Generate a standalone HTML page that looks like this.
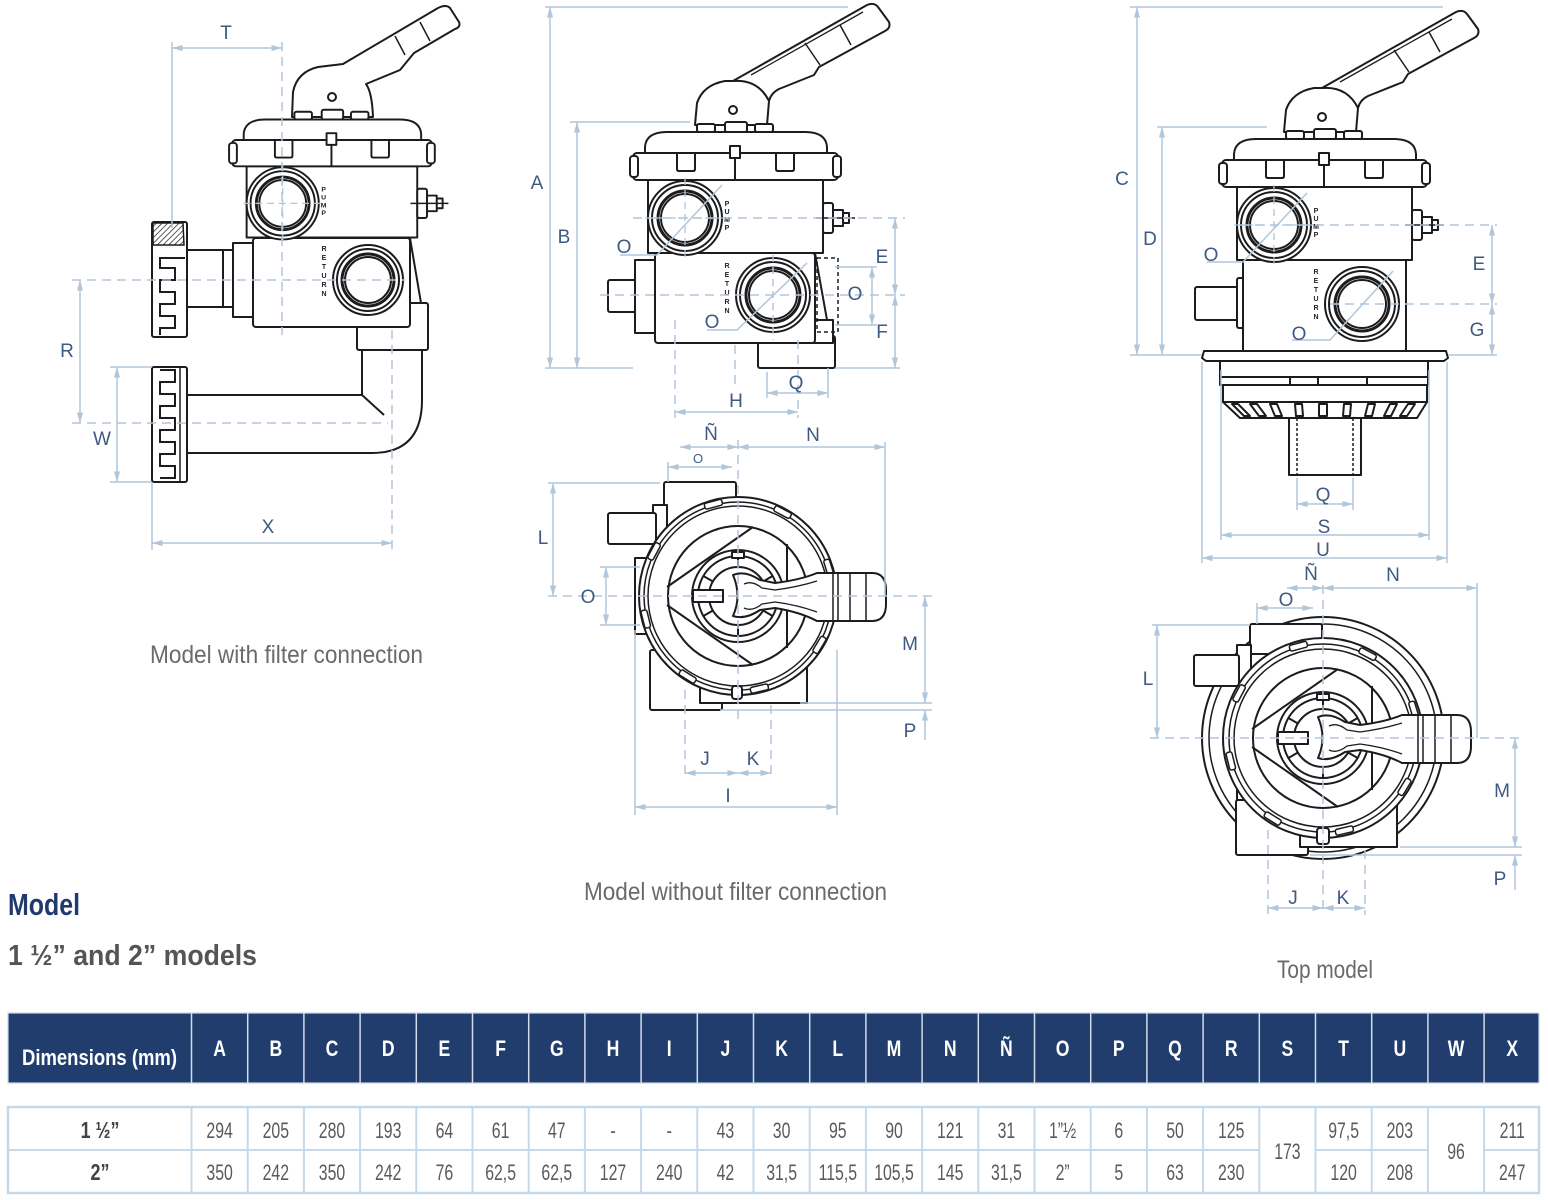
<!DOCTYPE html>
<html><head><meta charset="utf-8">
<style>
html,body{margin:0;padding:0;background:#fff;}
svg{display:block;}
</style></head><body>
<svg width="1548" height="1200" viewBox="0 0 1548 1200" xmlns="http://www.w3.org/2000/svg" font-family="Liberation Sans, Arial, sans-serif">
<defs>
<marker id="ar" viewBox="0 0 12 8" refX="12" refY="4" markerWidth="11" markerHeight="7" markerUnits="userSpaceOnUse" orient="auto-start-reverse"><path d="M0,0.5 L12,4 L0,7.5 Z" fill="#b0c6db"/></marker>
<pattern id="hatch" width="4" height="4" patternUnits="userSpaceOnUse" patternTransform="rotate(45)"><rect width="4" height="4" fill="#fff"/><line x1="0" y1="0" x2="0" y2="4" stroke="#333" stroke-width="1.6"/></pattern>

<g id="top" fill="#fff" stroke="#1c1c1c" stroke-width="2" stroke-linejoin="round">
 <rect x="64" y="-29" width="18" height="8" rx="2"/>
 <rect x="92" y="-31" width="22" height="10" rx="2"/>
 <rect x="122" y="-29" width="18" height="8" rx="2"/>
 <path d="M12,1 L12,-6 Q13,-21 34,-21 L172,-21 Q193,-21 194,-6 L194,1 Z"/>
 <rect x="15" y="27" width="175" height="73"/>
 <rect x="0" y="0" width="205" height="27" rx="4"/>
 <rect x="-3" y="3" width="8" height="21" rx="3"/>
 <rect x="200" y="3" width="8" height="21" rx="3"/>
 <path d="M44,0 L44,16 Q44,18 46,18 L60,18 Q62,18 62,16 L62,0" fill="none"/>
 <path d="M143,0 L143,16 Q143,18 145,18 L159,18 Q161,18 161,16 L161,0" fill="none"/>
 <path d="M97,-7 L107,-7 L107,5 L97,5 Z"/>
 <line x1="102" y1="5" x2="102" y2="27"/>
 <circle cx="52" cy="65" r="37"/>
 <circle cx="52" cy="65" r="33"/>
 <circle cx="52" cy="65" r="27" stroke-width="3"/>
 <circle cx="52" cy="65" r="24"/>
 <rect x="190" y="50" width="10" height="30" rx="2"/>
 <rect x="200" y="57" width="10" height="16"/>
 <path d="M210,60 L216,60 L216,70 L210,70" fill="none"/>
 <line x1="183" y1="65" x2="222" y2="65" stroke-width="1.5"/>
 <line x1="52" y1="25" x2="52" y2="105" stroke="#b0c6db" stroke-width="1.3" stroke-dasharray="7 5"/>
 <line x1="12" y1="65" x2="92" y2="65" stroke="#b0c6db" stroke-width="1.3" stroke-dasharray="7 5"/>
 <g stroke="none" fill="#222" font-size="7" font-weight="bold" text-anchor="middle">
  <text x="94" y="53">P</text><text x="94" y="61">U</text><text x="94" y="69">M</text><text x="94" y="77">P</text>
 </g>
</g>

<g id="hdl" fill="#fff" stroke="#1c1c1c" stroke-width="2" stroke-linejoin="round">
 <path d="M62,-28 L64,-50 Q70,-68 92,-72 L100,-72 L234,-148 Q241,-151 245,-146 L256,-131 Q258,-125 252,-122 L186,-86 L181,-78 L146,-64 Q138,-60 136,-52 L134,-28 Z"/>
 <path d="M100,-72 Q125,-74 136,-52" fill="none"/>
 <path d="M118,-78 L230,-141" fill="none" stroke-width="1.3"/>
 <path d="M172,-110 L187,-88 M207,-128 L218,-108" fill="none" stroke-width="1.5"/>
 <circle cx="100" cy="-43" r="4"/>
</g>

<g id="rot" fill="#fff" stroke="#1c1c1c" stroke-width="2" stroke-linejoin="round">
 <circle r="70"/>
 <path d="M-71,-9 L15,-69 M-71,9 L15,69 M49,-52 L49,52" fill="none"/>
 <circle r="46"/>
 <circle r="40"/>
 <circle r="29"/>
 <path d="M25.1,14.5 L34.6,20 M0,29 L0,40 M-25.1,14.5 L-34.6,20 M-25.1,-14.5 L-34.6,-20 M0,-29 L0,-40 M25.1,-14.5 L34.6,-20" fill="none"/>
 <rect x="-6" y="-44" width="12" height="6"/>
 <rect x="-45" y="-6" width="30" height="12"/>
 <path d="M-5,-21 Q7,-26 22,-16 L37,-13 Q62,-16 79,-23 L134,-23 Q148,-23 148,-6 L148,8 Q148,25 134,25 L79,25 Q62,16 37,12 L22,14 Q7,24 -5,20 Q4,0 -5,-21 Z"/>
 <path d="M6,-12 Q14,-16 24,-8 L37,-6 Q60,-9 79,-15 M6,12 Q14,16 24,8 L37,6 Q60,9 79,16" fill="none" stroke-width="1.3"/>
 <path d="M95,-23 L95,25 M100,-23 L100,25 M112,-23 L112,25 M128,-23 L128,25" fill="none" stroke-width="1.5"/>
</g>

<g id="slots" fill="#fff" stroke="#1c1c1c" stroke-width="1.5">
 <g transform="rotate(-105)"><rect x="92" y="-9" width="6" height="18" rx="2"/></g>
 <g transform="rotate(-62)"><rect x="92" y="-9" width="6" height="18" rx="2"/></g>
 <g transform="rotate(-17)"><rect x="92" y="-9" width="6" height="18" rx="2"/></g>
 <g transform="rotate(31)"><rect x="92" y="-9" width="6" height="18" rx="2"/></g>
 <g transform="rotate(77)"><rect x="92" y="-9" width="6" height="18" rx="2"/></g>
 <g transform="rotate(122)"><rect x="92" y="-9" width="6" height="18" rx="2"/></g>
 <g transform="rotate(166)"><rect x="92" y="-9" width="6" height="18" rx="2"/></g>
 <g transform="rotate(-152)"><rect x="92" y="-9" width="6" height="18" rx="2"/></g>
</g>
</defs>

<rect width="1548" height="1200" fill="#fff"/>

<!-- ================= VIEW 1 ================= -->
<g fill="#fff" stroke="#1c1c1c" stroke-width="2" stroke-linejoin="round">
 <path d="M362,345 L422,345 L422,400 Q422,453 372,453 L187,453 L187,395 L362,395 Z"/>
 <line x1="362" y1="395" x2="384" y2="415"/>
 <rect x="357" y="303" width="71" height="47" rx="2"/>
 <line x1="410" y1="238" x2="421" y2="303"/>
 <rect x="187" y="250" width="46" height="57"/>
 <line x1="223" y1="250" x2="223" y2="307"/>
 <path d="M233,243 L253,243 Q264,280 253,317 L233,317 Z"/>
 <rect x="253" y="238" width="157" height="89" rx="3"/>
 <path d="M292,117 L293,92 Q297,72 318,67 L343,64 L438,8 Q446,4 450,8 L459,22 Q461,27 455,29 L414,53 L400,70 L366,84 Q372,92 373,117 Z"/>
 <path d="M395,36 L405,55 M420,22 L430,41" fill="none" stroke-width="1.5"/>
 <circle cx="332" cy="97" r="4"/>
</g>
<use href="#top" transform="translate(232,140) scale(0.975)"/>
<g fill="#fff" stroke="#1c1c1c" stroke-width="2">
 <circle cx="368" cy="280" r="35"/>
 <circle cx="368" cy="280" r="31"/>
 <circle cx="368" cy="280" r="26" stroke-width="3"/>
 <circle cx="368" cy="280" r="23"/>
 <rect x="152" y="222" width="35" height="115" rx="2"/>
 <path d="M153,223 L183,223 L184,245 L153,245 Z" fill="url(#hatch)" stroke-width="1.5"/>
 <path d="M185,258 L160,258 L160,268 L175,268 L175,280 L160,280 L160,292 L175,292 L175,304 L160,304 L160,316 L175,316 L175,328 L160,328 L160,335" fill="none"/>
 <rect x="152" y="367" width="35" height="115" rx="2"/>
 <path d="M180,367 L180,482" fill="none" stroke-width="1.5"/>
 <path d="M160,370 L175,370 L175,382 L160,382 L160,394 L175,394 L175,406 L160,406 L160,418 L175,418 L175,430 L160,430 L160,442 L175,442 L175,454 L160,454 L160,466 L175,466 L175,478 L160,478" fill="none"/>
</g>
<g stroke="none" fill="#222" font-size="7" font-weight="bold" text-anchor="middle">
 <text x="324" y="251">R</text><text x="324" y="260">E</text><text x="324" y="269">T</text><text x="324" y="278">U</text><text x="324" y="287">R</text><text x="324" y="296">N</text>
</g>
<g stroke="#b0c6db" stroke-width="1.5" fill="none">
 <line x1="172" y1="48" x2="282" y2="48" marker-start="url(#ar)" marker-end="url(#ar)"/>
 <line x1="172" y1="42" x2="172" y2="228"/>
 <line x1="282" y1="42" x2="282" y2="335" stroke-dasharray="9 6"/>
 <line x1="72" y1="280" x2="405" y2="280" stroke-dasharray="9 6"/>
 <line x1="72" y1="423" x2="388" y2="423" stroke-dasharray="9 6"/>
 <line x1="80" y1="280" x2="80" y2="423" marker-start="url(#ar)" marker-end="url(#ar)"/>
 <line x1="110" y1="367" x2="152" y2="367"/>
 <line x1="110" y1="482" x2="152" y2="482"/>
 <line x1="117" y1="367" x2="117" y2="482" marker-start="url(#ar)" marker-end="url(#ar)"/>
 <line x1="152" y1="482" x2="152" y2="550"/>
 <line x1="392" y1="330" x2="392" y2="550" stroke-dasharray="9 6"/>
 <line x1="152" y1="543" x2="392" y2="543" marker-start="url(#ar)" marker-end="url(#ar)"/>
</g>

<!-- ================= VIEW 2 ================= -->
<g fill="#fff" stroke="#1c1c1c" stroke-width="2" stroke-linejoin="round">
 <rect x="758" y="336" width="77" height="32" rx="2"/>
 <rect x="810" y="320" width="23" height="23"/>
 <line x1="815" y1="253" x2="827" y2="320"/>
 <rect x="608" y="280" width="30" height="32" rx="2"/>
 <path d="M635,260 L655,260 Q670,296 655,333 L635,333 Z"/>
 <rect x="655" y="253" width="160" height="90" rx="3"/>
 <rect x="817" y="258" width="21" height="74" fill="none" stroke-dasharray="4 3" stroke-width="1.5"/>
</g>
<use href="#hdl" transform="translate(633,153)"/>
<use href="#top" transform="translate(633,153)"/>
<g fill="#fff" stroke="#1c1c1c" stroke-width="2">
 <circle cx="773" cy="295" r="37"/>
 <circle cx="773" cy="295" r="33"/>
 <circle cx="773" cy="295" r="27" stroke-width="3"/>
 <circle cx="773" cy="295" r="24"/>
</g>
<g stroke="none" fill="#222" font-size="7" font-weight="bold" text-anchor="middle">
 <text x="727" y="268">R</text><text x="727" y="277">E</text><text x="727" y="286">T</text><text x="727" y="295">U</text><text x="727" y="304">R</text><text x="727" y="313">N</text>
</g>
<g stroke="#b0c6db" stroke-width="1.5" fill="none">
 <line x1="545" y1="7" x2="848" y2="7"/>
 <line x1="545" y1="368" x2="633" y2="368"/>
 <line x1="550" y1="7" x2="550" y2="368" marker-start="url(#ar)" marker-end="url(#ar)"/>
 <line x1="570" y1="122" x2="690" y2="122"/>
 <line x1="577" y1="122" x2="577" y2="368" marker-start="url(#ar)" marker-end="url(#ar)"/>
 <line x1="633" y1="218" x2="905" y2="218" stroke-dasharray="9 6"/>
 <line x1="600" y1="295" x2="905" y2="295" stroke-dasharray="9 6"/>
 <line x1="835" y1="368" x2="900" y2="368"/>
 <line x1="895" y1="218" x2="895" y2="295" marker-start="url(#ar)" marker-end="url(#ar)"/>
 <line x1="895" y1="295" x2="895" y2="368" marker-start="url(#ar)" marker-end="url(#ar)"/>
 <line x1="835" y1="267" x2="877" y2="267"/>
 <line x1="835" y1="325" x2="877" y2="325"/>
 <line x1="872" y1="267" x2="872" y2="325" marker-start="url(#ar)" marker-end="url(#ar)"/>
 <polyline points="620,255 657,255 722,185"/>
 <polyline points="707,330 737,330 807,263"/>
 <line x1="773" y1="255" x2="773" y2="340" stroke-dasharray="7 5"/>
 <line x1="767" y1="372" x2="767" y2="398"/>
 <line x1="828" y1="368" x2="828" y2="398"/>
 <line x1="767" y1="393" x2="828" y2="393" marker-start="url(#ar)" marker-end="url(#ar)"/>
 <line x1="675" y1="320" x2="675" y2="418" stroke-dasharray="9 6"/>
 <line x1="798" y1="340" x2="798" y2="418" stroke-dasharray="9 6"/>
 <line x1="735" y1="345" x2="735" y2="385" stroke-dasharray="9 6"/>
 <line x1="675" y1="412" x2="798" y2="412" marker-start="url(#ar)" marker-end="url(#ar)"/>
</g>

<!-- ================= VIEW 3 (top, middle) ================= -->
<g fill="#fff" stroke="#1c1c1c" stroke-width="2" stroke-linejoin="round">
 <rect x="664" y="482" width="72" height="45" rx="2"/>
 <rect x="653" y="505" width="14" height="45"/>
 <rect x="608" y="513" width="48" height="31" rx="2"/>
 <rect x="635" y="558" width="15" height="76"/>
 <rect x="650" y="650" width="72" height="60" rx="2"/>
 <rect x="700" y="640" width="107" height="63"/>
 <circle cx="738" cy="596" r="99"/>
 <circle cx="738" cy="596" r="94" fill="none" stroke-width="1.5"/>
 <circle cx="738" cy="596" r="90" fill="none" stroke-width="1.5"/>
 <rect x="732" y="686" width="10" height="13" rx="3"/>
</g>
<use href="#slots" transform="translate(738,596)"/>
<use href="#rot" transform="translate(738,596)"/>
<g stroke="#b0c6db" stroke-width="1.5" fill="none">
 <line x1="680" y1="447" x2="738" y2="447" marker-start="url(#ar)" marker-end="url(#ar)"/>
 <line x1="738" y1="447" x2="885" y2="447" marker-start="url(#ar)" marker-end="url(#ar)"/>
 <line x1="885" y1="442" x2="885" y2="596"/>
 <line x1="738" y1="440" x2="738" y2="720" stroke-dasharray="9 6"/>
 <line x1="668" y1="467" x2="732" y2="467" marker-start="url(#ar)" marker-end="url(#ar)"/>
 <line x1="668" y1="462" x2="668" y2="482"/>
 <line x1="548" y1="483" x2="660" y2="483"/>
 <line x1="553" y1="483" x2="553" y2="596" marker-start="url(#ar)" marker-end="url(#ar)"/>
 <line x1="600" y1="567" x2="640" y2="567"/>
 <line x1="600" y1="625" x2="640" y2="625"/>
 <line x1="606" y1="567" x2="606" y2="625" marker-start="url(#ar)" marker-end="url(#ar)"/>
 <line x1="548" y1="596" x2="932" y2="596" stroke-dasharray="9 6"/>
 <line x1="800" y1="703" x2="932" y2="703"/>
 <line x1="720" y1="710" x2="932" y2="710"/>
 <line x1="925" y1="596" x2="925" y2="703" marker-start="url(#ar)" marker-end="url(#ar)"/>
 <line x1="925" y1="740" x2="925" y2="710" marker-end="url(#ar)"/>
 <line x1="685" y1="690" x2="685" y2="780" stroke-dasharray="9 6"/>
 <line x1="771" y1="705" x2="771" y2="780" stroke-dasharray="9 6"/>
 <line x1="685" y1="773" x2="738" y2="773" marker-start="url(#ar)" marker-end="url(#ar)"/>
 <line x1="738" y1="773" x2="771" y2="773" marker-start="url(#ar)" marker-end="url(#ar)"/>
 <line x1="635" y1="630" x2="635" y2="815"/>
 <line x1="837" y1="650" x2="837" y2="815"/>
 <line x1="635" y1="807" x2="837" y2="807" marker-start="url(#ar)" marker-end="url(#ar)"/>
</g>

<!-- ================= VIEW 4 ================= -->
<g fill="#fff" stroke="#1c1c1c" stroke-width="2" stroke-linejoin="round">
 <rect x="1289" y="412" width="72" height="63"/>
 <path d="M1297,418 L1297,475 M1353,418 L1353,475" fill="none" stroke-width="1.5" stroke-dasharray="3 2"/>
 <path d="M1223,402 L1427,402 L1417,418 L1240,418 Z"/>
 <g fill="none" stroke="#1c1c1c" stroke-width="2">
  <path d="M1232,404 L1238,404 L1250,416 L1244,416 Z"/>
  <path d="M1250,404 L1257,404 L1266,416 L1259,416 Z"/>
  <path d="M1270,404 L1277,404 L1282,416 L1275,416 Z"/>
  <path d="M1295,404 L1302,404 L1303,416 L1296,416 Z"/>
  <path d="M1319,404 L1327,404 L1327,416 L1319,416 Z"/>
  <path d="M1344,404 L1351,404 L1350,416 L1343,416 Z"/>
  <path d="M1368,404 L1375,404 L1372,416 L1365,416 Z"/>
  <path d="M1390,404 L1397,404 L1391,416 L1384,416 Z"/>
  <path d="M1408,404 L1415,404 L1407,416 L1400,416 Z"/>
 </g>
 <rect x="1223" y="385" width="204" height="17"/>
 <rect x="1220" y="360" width="208" height="25"/>
 <line x1="1220" y1="377" x2="1428" y2="377"/>
 <path d="M1290,377 L1290,385 M1318,377 L1318,385 M1367,377 L1367,385" fill="none"/>
 <path d="M1204,351 L1446,351 L1448,358 L1444,361 L1206,361 L1202,358 Z"/>
 <rect x="1195" y="287" width="45" height="33" rx="2"/>
 <rect x="1237" y="278" width="8" height="50" rx="2"/>
 <rect x="1243" y="260" width="163" height="91"/>
</g>
<use href="#hdl" transform="translate(1222,160)"/>
<use href="#top" transform="translate(1222,160)"/>
<g fill="#fff" stroke="#1c1c1c" stroke-width="2">
 <circle cx="1362" cy="304" r="37"/>
 <circle cx="1362" cy="304" r="33"/>
 <circle cx="1362" cy="304" r="27" stroke-width="3"/>
 <circle cx="1362" cy="304" r="24"/>
</g>
<g stroke="none" fill="#222" font-size="7" font-weight="bold" text-anchor="middle">
 <text x="1316" y="274">R</text><text x="1316" y="283">E</text><text x="1316" y="292">T</text><text x="1316" y="301">U</text><text x="1316" y="310">R</text><text x="1316" y="319">N</text>
</g>
<g stroke="#b0c6db" stroke-width="1.5" fill="none">
 <line x1="1130" y1="7" x2="1443" y2="7"/>
 <line x1="1137" y1="7" x2="1137" y2="355" marker-start="url(#ar)" marker-end="url(#ar)"/>
 <line x1="1157" y1="127" x2="1267" y2="127"/>
 <line x1="1162" y1="127" x2="1162" y2="355" marker-start="url(#ar)" marker-end="url(#ar)"/>
 <line x1="1130" y1="355" x2="1202" y2="355"/>
 <line x1="1448" y1="355" x2="1497" y2="355"/>
 <line x1="1240" y1="225" x2="1497" y2="225" stroke-dasharray="9 6"/>
 <line x1="1330" y1="304" x2="1497" y2="304" stroke-dasharray="9 6"/>
 <line x1="1492" y1="225" x2="1492" y2="304" marker-start="url(#ar)" marker-end="url(#ar)"/>
 <line x1="1492" y1="304" x2="1492" y2="355" marker-start="url(#ar)" marker-end="url(#ar)"/>
 <polyline points="1207,262 1243,262 1307,193"/>
 <polyline points="1292,340 1330,340 1393,271"/>
 <line x1="1297" y1="478" x2="1297" y2="510"/>
 <line x1="1353" y1="478" x2="1353" y2="510"/>
 <line x1="1297" y1="504" x2="1353" y2="504" marker-start="url(#ar)" marker-end="url(#ar)"/>
 <line x1="1221" y1="370" x2="1221" y2="540"/>
 <line x1="1429" y1="370" x2="1429" y2="540"/>
 <line x1="1221" y1="535" x2="1429" y2="535" marker-start="url(#ar)" marker-end="url(#ar)"/>
 <line x1="1202" y1="362" x2="1202" y2="563"/>
 <line x1="1447" y1="362" x2="1447" y2="563"/>
 <line x1="1202" y1="558" x2="1447" y2="558" marker-start="url(#ar)" marker-end="url(#ar)"/>
</g>

<!-- ================= VIEW 5 (top, right) ================= -->
<g fill="#fff" stroke="#1c1c1c" stroke-width="2" stroke-linejoin="round">
 <circle cx="1323" cy="738" r="121"/>
 <circle cx="1323" cy="738" r="114" fill="none" stroke-width="1.5"/>
 <rect x="1250" y="624" width="72" height="30" rx="2"/>
 <rect x="1237" y="645" width="14" height="45"/>
 <rect x="1194" y="655" width="45" height="31" rx="2"/>
 <rect x="1237" y="688" width="10" height="136"/>
 <rect x="1236" y="800" width="72" height="55" rx="2"/>
 <rect x="1300" y="790" width="97" height="57"/>
 <circle cx="1323" cy="738" r="100"/>
 <circle cx="1323" cy="738" r="94" fill="none" stroke-width="1.5"/>
 <circle cx="1323" cy="738" r="89" fill="none" stroke-width="1.5"/>
 <rect x="1317" y="828" width="12" height="16" rx="3"/>
</g>
<use href="#slots" transform="translate(1323,738)"/>
<use href="#rot" transform="translate(1323,738)"/>
<g stroke="#b0c6db" stroke-width="1.5" fill="none">
 <line x1="1287" y1="588" x2="1323" y2="588" marker-start="url(#ar)" marker-end="url(#ar)"/>
 <line x1="1323" y1="588" x2="1477" y2="588" marker-start="url(#ar)" marker-end="url(#ar)"/>
 <line x1="1477" y1="583" x2="1477" y2="738"/>
 <line x1="1323" y1="585" x2="1323" y2="915" stroke-dasharray="9 6"/>
 <line x1="1257" y1="608" x2="1313" y2="608" marker-start="url(#ar)" marker-end="url(#ar)"/>
 <line x1="1257" y1="603" x2="1257" y2="624"/>
 <line x1="1152" y1="625" x2="1250" y2="625"/>
 <line x1="1157" y1="625" x2="1157" y2="738" marker-start="url(#ar)" marker-end="url(#ar)"/>
 <line x1="1150" y1="738" x2="1522" y2="738" stroke-dasharray="9 6"/>
 <line x1="1400" y1="847" x2="1522" y2="847"/>
 <line x1="1310" y1="855" x2="1522" y2="855"/>
 <line x1="1515" y1="738" x2="1515" y2="847" marker-start="url(#ar)" marker-end="url(#ar)"/>
 <line x1="1515" y1="890" x2="1515" y2="855" marker-end="url(#ar)"/>
 <line x1="1268" y1="830" x2="1268" y2="915" stroke-dasharray="9 6"/>
 <line x1="1365" y1="850" x2="1365" y2="915" stroke-dasharray="9 6"/>
 <line x1="1268" y1="908" x2="1323" y2="908" marker-start="url(#ar)" marker-end="url(#ar)"/>
 <line x1="1323" y1="908" x2="1365" y2="908" marker-start="url(#ar)" marker-end="url(#ar)"/>
</g>

<!-- ================= DIMENSION LABELS ================= -->
<g font-size="19" fill="#3e5a80" text-anchor="middle">
 <text x="226" y="39">T</text>
 <text x="67" y="357">R</text>
 <text x="102" y="445">W</text>
 <text x="268" y="533">X</text>
 <text x="537" y="189">A</text>
 <text x="564" y="243">B</text>
 <text x="624" y="253">O</text>
 <text x="882" y="263">E</text>
 <text x="855" y="300">O</text>
 <text x="882" y="338">F</text>
 <text x="712" y="328">O</text>
 <text x="796" y="389">Q</text>
 <text x="736" y="407">H</text>
 <text x="711" y="440">Ñ</text>
 <text x="813" y="441">N</text>
 <text x="698" y="463" font-size="13">O</text>
 <text x="543" y="544">L</text>
 <text x="588" y="603">O</text>
 <text x="910" y="650">M</text>
 <text x="910" y="737">P</text>
 <text x="705" y="765">J</text>
 <text x="753" y="765">K</text>
 <text x="728" y="802">I</text>
 <text x="1122" y="185">C</text>
 <text x="1150" y="245">D</text>
 <text x="1211" y="261">O</text>
 <text x="1479" y="270">E</text>
 <text x="1477" y="336">G</text>
 <text x="1299" y="340">O</text>
 <text x="1323" y="501">Q</text>
 <text x="1324" y="533">S</text>
 <text x="1323" y="556">U</text>
 <text x="1311" y="580">Ñ</text>
 <text x="1393" y="581">N</text>
 <text x="1286" y="606">O</text>
 <text x="1148" y="685">L</text>
 <text x="1502" y="797">M</text>
 <text x="1500" y="885">P</text>
 <text x="1293" y="904">J</text>
 <text x="1343" y="904">K</text>
</g>

<!-- ================= CAPTIONS ================= -->
<g fill="#6a6a6a" font-size="25">
 <text x="150" y="663" textLength="273" lengthAdjust="spacingAndGlyphs">Model with filter connection</text>
 <text x="584" y="900" textLength="303" lengthAdjust="spacingAndGlyphs">Model without filter connection</text>
 <text x="1277" y="978" textLength="96" lengthAdjust="spacingAndGlyphs">Top model</text>
</g>
<text x="8" y="915" font-size="31" font-weight="bold" fill="#1f3b6e" textLength="72" lengthAdjust="spacingAndGlyphs">Model</text>
<text x="8" y="965" font-size="29" font-weight="bold" fill="#555" textLength="249" lengthAdjust="spacingAndGlyphs">1 ½” and 2” models</text>

<!-- ================= TABLE ================= -->
<rect x="8" y="1013" width="1531" height="70" fill="#203d6e" stroke="#c9d6e5" stroke-width="1.2"/>
<path d="M191.5,1013V1083 M247.7,1013V1083 M303.9,1013V1083 M360.1,1013V1083 M416.3,1013V1083 M472.5,1013V1083 M528.7,1013V1083 M584.9,1013V1083 M641.1,1013V1083 M697.3,1013V1083 M753.5,1013V1083 M809.7,1013V1083 M865.9,1013V1083 M922.1,1013V1083 M978.3,1013V1083 M1034.5,1013V1083 M1090.7,1013V1083 M1146.9,1013V1083 M1203.1,1013V1083 M1259.3,1013V1083 M1315.5,1013V1083 M1371.7,1013V1083 M1427.9,1013V1083 M1484.1,1013V1083" stroke="#d3dce8" stroke-width="1.5" fill="none"/>
<text x="22" y="1065" font-size="22" font-weight="bold" fill="#fff" textLength="155" lengthAdjust="spacingAndGlyphs">Dimensions (mm)</text>
<g font-size="22" font-weight="bold" fill="#fff" text-anchor="middle">
 <text transform="translate(219.6,1056) scale(0.8,1)">A</text>
 <text transform="translate(275.8,1056) scale(0.8,1)">B</text>
 <text transform="translate(332.0,1056) scale(0.8,1)">C</text>
 <text transform="translate(388.2,1056) scale(0.8,1)">D</text>
 <text transform="translate(444.4,1056) scale(0.8,1)">E</text>
 <text transform="translate(500.6,1056) scale(0.8,1)">F</text>
 <text transform="translate(556.8,1056) scale(0.8,1)">G</text>
 <text transform="translate(613.0,1056) scale(0.8,1)">H</text>
 <text transform="translate(669.2,1056) scale(0.8,1)">I</text>
 <text transform="translate(725.4,1056) scale(0.8,1)">J</text>
 <text transform="translate(781.6,1056) scale(0.8,1)">K</text>
 <text transform="translate(837.8,1056) scale(0.8,1)">L</text>
 <text transform="translate(894.0,1056) scale(0.8,1)">M</text>
 <text transform="translate(950.2,1056) scale(0.8,1)">N</text>
 <text transform="translate(1006.4,1056) scale(0.8,1)">Ñ</text>
 <text transform="translate(1062.6,1056) scale(0.8,1)">O</text>
 <text transform="translate(1118.8,1056) scale(0.8,1)">P</text>
 <text transform="translate(1175.0,1056) scale(0.8,1)">Q</text>
 <text transform="translate(1231.2,1056) scale(0.8,1)">R</text>
 <text transform="translate(1287.4,1056) scale(0.8,1)">S</text>
 <text transform="translate(1343.6,1056) scale(0.8,1)">T</text>
 <text transform="translate(1399.8,1056) scale(0.8,1)">U</text>
 <text transform="translate(1456.0,1056) scale(0.8,1)">W</text>
 <text transform="translate(1512.2,1056) scale(0.8,1)">X</text>
</g>

<rect x="8" y="1107" width="1531" height="86" fill="#fff" stroke="#c6d9e9" stroke-width="2.5"/>
<path d="M8,1150H1259.3 M1315.5,1150H1427.9 M1484.1,1150H1539" stroke="#c6d9e9" stroke-width="2" fill="none"/>
<path d="M191.5,1107V1193 M247.7,1107V1193 M303.9,1107V1193 M360.1,1107V1193 M416.3,1107V1193 M472.5,1107V1193 M528.7,1107V1193 M584.9,1107V1193 M641.1,1107V1193 M697.3,1107V1193 M753.5,1107V1193 M809.7,1107V1193 M865.9,1107V1193 M922.1,1107V1193 M978.3,1107V1193 M1034.5,1107V1193 M1090.7,1107V1193 M1146.9,1107V1193 M1203.1,1107V1193 M1259.3,1107V1193 M1315.5,1107V1193 M1371.7,1107V1193 M1427.9,1107V1193 M1484.1,1107V1193" stroke="#c6d9e9" stroke-width="2" fill="none"/>

<g font-size="23" font-weight="bold" fill="#444" text-anchor="middle">
 <text transform="translate(100,1138) scale(0.78,1)">1 ½”</text>
 <text transform="translate(100,1180) scale(0.78,1)">2”</text>
</g>
<g font-size="22" fill="#5a5a5a" text-anchor="middle">
 <text transform="translate(219.6,1138) scale(0.72,1)">294</text>
 <text transform="translate(275.8,1138) scale(0.72,1)">205</text>
 <text transform="translate(332.0,1138) scale(0.72,1)">280</text>
 <text transform="translate(388.2,1138) scale(0.72,1)">193</text>
 <text transform="translate(444.4,1138) scale(0.72,1)">64</text>
 <text transform="translate(500.6,1138) scale(0.72,1)">61</text>
 <text transform="translate(556.8,1138) scale(0.72,1)">47</text>
 <text transform="translate(613.0,1138) scale(0.72,1)">-</text>
 <text transform="translate(669.2,1138) scale(0.72,1)">-</text>
 <text transform="translate(725.4,1138) scale(0.72,1)">43</text>
 <text transform="translate(781.6,1138) scale(0.72,1)">30</text>
 <text transform="translate(837.8,1138) scale(0.72,1)">95</text>
 <text transform="translate(894.0,1138) scale(0.72,1)">90</text>
 <text transform="translate(950.2,1138) scale(0.72,1)">121</text>
 <text transform="translate(1006.4,1138) scale(0.72,1)">31</text>
 <text transform="translate(1062.6,1138) scale(0.72,1)">1”½</text>
 <text transform="translate(1118.8,1138) scale(0.72,1)">6</text>
 <text transform="translate(1175.0,1138) scale(0.72,1)">50</text>
 <text transform="translate(1231.2,1138) scale(0.72,1)">125</text>
 <text transform="translate(1343.6,1138) scale(0.72,1)">97,5</text>
 <text transform="translate(1399.8,1138) scale(0.72,1)">203</text>
 <text transform="translate(1512.2,1138) scale(0.72,1)">211</text>

 <text transform="translate(219.6,1180) scale(0.72,1)">350</text>
 <text transform="translate(275.8,1180) scale(0.72,1)">242</text>
 <text transform="translate(332.0,1180) scale(0.72,1)">350</text>
 <text transform="translate(388.2,1180) scale(0.72,1)">242</text>
 <text transform="translate(444.4,1180) scale(0.72,1)">76</text>
 <text transform="translate(500.6,1180) scale(0.72,1)">62,5</text>
 <text transform="translate(556.8,1180) scale(0.72,1)">62,5</text>
 <text transform="translate(613.0,1180) scale(0.72,1)">127</text>
 <text transform="translate(669.2,1180) scale(0.72,1)">240</text>
 <text transform="translate(725.4,1180) scale(0.72,1)">42</text>
 <text transform="translate(781.6,1180) scale(0.72,1)">31,5</text>
 <text transform="translate(837.8,1180) scale(0.72,1)">115,5</text>
 <text transform="translate(894.0,1180) scale(0.72,1)">105,5</text>
 <text transform="translate(950.2,1180) scale(0.72,1)">145</text>
 <text transform="translate(1006.4,1180) scale(0.72,1)">31,5</text>
 <text transform="translate(1062.6,1180) scale(0.72,1)">2”</text>
 <text transform="translate(1118.8,1180) scale(0.72,1)">5</text>
 <text transform="translate(1175.0,1180) scale(0.72,1)">63</text>
 <text transform="translate(1231.2,1180) scale(0.72,1)">230</text>
 <text transform="translate(1343.6,1180) scale(0.72,1)">120</text>
 <text transform="translate(1399.8,1180) scale(0.72,1)">208</text>
 <text transform="translate(1512.2,1180) scale(0.72,1)">247</text>

 <text transform="translate(1287.4,1159) scale(0.72,1)">173</text>
 <text transform="translate(1456.0,1159) scale(0.72,1)">96</text>
</g>
</svg>
</body></html>
